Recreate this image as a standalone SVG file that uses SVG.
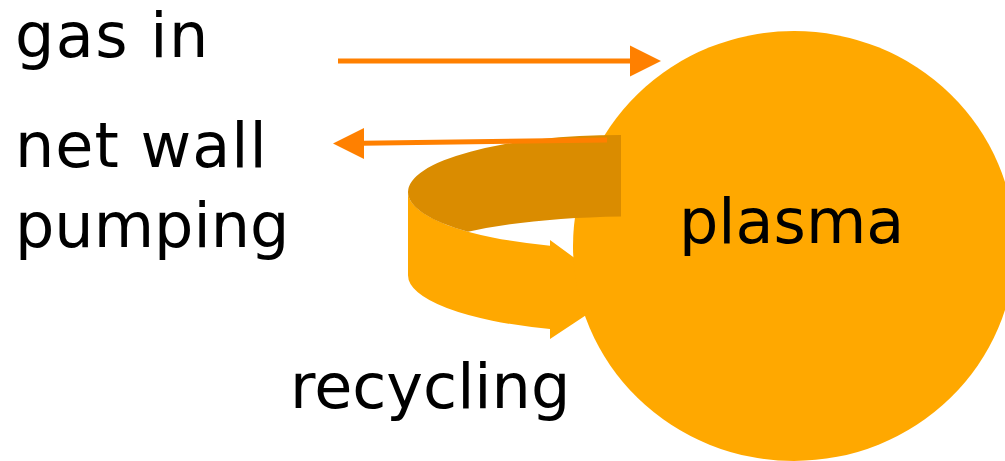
<svg xmlns="http://www.w3.org/2000/svg" width="1005" height="461" viewBox="0 0 1005 461">
<style>
text{font-family:"DejaVu Sans","Liberation Sans",sans-serif;font-size:62px;fill:#000}
.light{fill:#FFA800}
.dark{fill:#DA8C00}
.line{stroke:#FF8000;stroke-width:5;fill:none}
.head{fill:#FF8000}
</style>
<rect width="1005" height="461" fill="#fff"/>
<g id="recycling">
<path class="light" d="M408,192 A213,57 0 0,0 550,245.7 L550,240 L621,292 L550,339 L550,329 A213,57 0 0,1 408,275 Z"/>
</g>
<g id="plasma">
<ellipse class="light" cx="794" cy="246" rx="221" ry="215"/>
<text x="679" y="243">plasma</text>
</g>
<g id="recycling-top">
<path class="dark" d="M621,135 A213,57 0 0,0 408,192 A213,57 0 0,0 468,231.7 Q530,218 621,216.5 Z"/>
</g>
<g id="connectors">
<line class="line" x1="338" y1="61" x2="632" y2="61"/>
<polygon class="head" points="630,45.5 661,61 630,76.5"/>
<line class="line" x1="607" y1="140" x2="362" y2="143.3"/>
<polygon class="head" points="364,128 333,143.5 364,159"/>
</g>
<g id="labels">
<text x="15" y="57" letter-spacing="1.5">gas in</text>
<text x="15" y="167" letter-spacing="1">net wall</text>
<text x="15" y="247">pumping</text>
<text x="290" y="408">recycling</text>
</g>
</svg>
